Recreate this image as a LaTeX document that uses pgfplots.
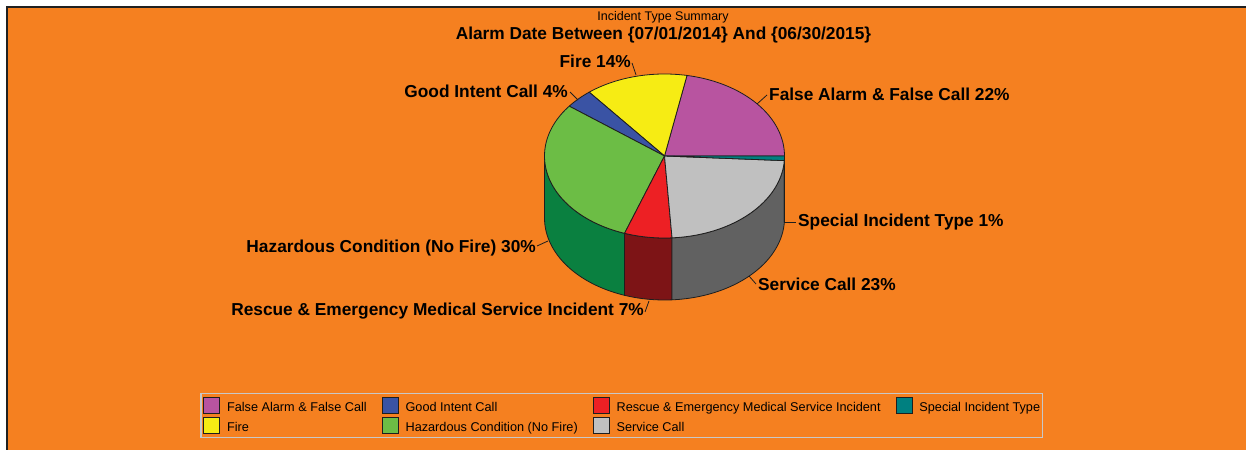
\documentclass[border=0pt]{standalone}
\usepackage{fontspec}
\setmainfont{Liberation Sans}
\usepackage{pgfplots}
\pgfplotsset{compat=1.18}
\usepgfplotslibrary{fillbetween}

\definecolor{bgorange}{RGB}{245,128,32}
\definecolor{frameblack}{RGB}{32,32,32}
\definecolor{edge}{RGB}{30,30,30}
\definecolor{cFA}{RGB}{184,84,160}
\definecolor{cFire}{RGB}{246,236,20}
\definecolor{cGI}{RGB}{58,83,164}
\definecolor{cHz}{RGB}{108,189,69}
\definecolor{cHzS}{RGB}{10,128,64}
\definecolor{cRe}{RGB}{237,32,36}
\definecolor{cReS}{RGB}{125,20,22}
\definecolor{cSv}{RGB}{192,192,192}
\definecolor{cSvS}{RGB}{97,97,97}
\definecolor{cSp}{RGB}{0,128,128}
\definecolor{cSpS}{RGB}{0,92,92}
\definecolor{legbord}{RGB}{200,200,200}

% shares (percent)
\def\pFA{22.0}
\def\pFire{13.8}
\def\pGI{3.8}
\def\pHz{30.0}
\def\pRe{6.4}
\def\pSv{23.1}
\def\pSp{0.9}

\pgfmathsetmacro\aA{3.6*\pFA}
\pgfmathsetmacro\aB{\aA+3.6*\pFire}
\pgfmathsetmacro\aC{\aB+3.6*\pGI}
\pgfmathsetmacro\aD{\aC+3.6*\pHz}
\pgfmathsetmacro\aE{\aD+3.6*\pRe}
\pgfmathsetmacro\aF{\aE+3.6*\pSv}
\pgfmathsetmacro\aG{\aF+3.6*\pSp}

\def\cx{664.5}
\def\cy{156}
\def\rx{120}
\def\ry{82}
\def\dep{62}

\newcommand\lab{\fontsize{17.3}{20}\selectfont\bfseries}

\begin{document}
\begin{tikzpicture}
\begin{axis}[
  x=1pt, y=1pt, xmin=0, xmax=1246, ymin=0, ymax=450, y dir=reverse,
  hide axis, scale only axis, clip=false,
  legend image code/.code={\draw[#1,draw=edge,line width=0.8pt] (0pt,-5.5pt) rectangle (16pt,10.5pt);},
  legend columns=2, transpose legend, legend cell align=left,
  legend style={at={(axis cs:200,393)}, anchor=north west,
    draw=legbord, line width=1.5pt, fill=none,
    font=\fontsize{12.7}{15}\selectfont,
    inner xsep=2.5pt, inner ysep=3.5pt, row sep=2pt, column sep=7pt,
    /tikz/every even column/.append style={column sep=15pt},
    nodes={inner sep=0pt, text height=10pt, text depth=3pt}},
]
% background
\fill[white] (axis cs:0,0) rectangle (axis cs:1246,450);
\fill[bgorange] (axis cs:8,8) rectangle (axis cs:1246,450);
\fill[frameblack] (axis cs:6,6) rectangle (axis cs:1246,8);
\fill[frameblack] (axis cs:6,6) rectangle (axis cs:8,450);

% side walls
\addplot[draw=none, forget plot, name path=hzT, domain=180:\aD, samples=50] ({\cx+\rx*cos(x)},{\cy-\ry*sin(x)});
\addplot[draw=none, forget plot, name path=hzB, domain=180:\aD, samples=50] ({\cx+\rx*cos(x)},{\cy+\dep-\ry*sin(x)});
\addplot[fill=cHzS, draw=edge, line width=0.8pt, forget plot] fill between[of=hzT and hzB, on layer=main];

\addplot[draw=none, forget plot, name path=reT, domain=\aD:\aE, samples=20] ({\cx+\rx*cos(x)},{\cy-\ry*sin(x)});
\addplot[draw=none, forget plot, name path=reB, domain=\aD:\aE, samples=20] ({\cx+\rx*cos(x)},{\cy+\dep-\ry*sin(x)});
\addplot[fill=cReS, draw=edge, line width=0.8pt, forget plot] fill between[of=reT and reB, on layer=main];

\addplot[draw=none, forget plot, name path=svT, domain=\aE:\aF, samples=50] ({\cx+\rx*cos(x)},{\cy-\ry*sin(x)});
\addplot[draw=none, forget plot, name path=svB, domain=\aE:\aF, samples=50] ({\cx+\rx*cos(x)},{\cy+\dep-\ry*sin(x)});
\addplot[fill=cSvS, draw=edge, line width=0.8pt, forget plot] fill between[of=svT and svB, on layer=main];

\addplot[draw=none, forget plot, name path=spT, domain=\aF:\aG, samples=5] ({\cx+\rx*cos(x)},{\cy-\ry*sin(x)});
\addplot[draw=none, forget plot, name path=spB, domain=\aF:\aG, samples=5] ({\cx+\rx*cos(x)},{\cy+\dep-\ry*sin(x)});
\addplot[fill=cSpS, draw=edge, line width=0.8pt, forget plot] fill between[of=spT and spB, on layer=main];

% top wedges
\addplot[fill=cFA, draw=edge, line width=0.8pt, domain=0:\aA, samples=50] ({\cx+\rx*cos(x)},{\cy-\ry*sin(x)}) -- (axis cs:\cx,\cy) -- cycle;
\addlegendentry{False Alarm \& False Call}
\addplot[fill=cFire, draw=edge, line width=0.8pt, domain=\aA:\aB, samples=40] ({\cx+\rx*cos(x)},{\cy-\ry*sin(x)}) -- (axis cs:\cx,\cy) -- cycle;
\addlegendentry{Fire}
\addplot[fill=cGI, draw=edge, line width=0.8pt, domain=\aB:\aC, samples=15] ({\cx+\rx*cos(x)},{\cy-\ry*sin(x)}) -- (axis cs:\cx,\cy) -- cycle;
\addlegendentry{Good Intent Call}
\addplot[fill=cHz, draw=edge, line width=0.8pt, domain=\aC:\aD, samples=60] ({\cx+\rx*cos(x)},{\cy-\ry*sin(x)}) -- (axis cs:\cx,\cy) -- cycle;
\addlegendentry{Hazardous Condition (No Fire)}
\addplot[fill=cRe, draw=edge, line width=0.8pt, domain=\aD:\aE, samples=20] ({\cx+\rx*cos(x)},{\cy-\ry*sin(x)}) -- (axis cs:\cx,\cy) -- cycle;
\addlegendentry{Rescue \& Emergency Medical Service Incident}
\addplot[fill=cSv, draw=edge, line width=0.8pt, domain=\aE:\aF, samples=50] ({\cx+\rx*cos(x)},{\cy-\ry*sin(x)}) -- (axis cs:\cx,\cy) -- cycle;
\addlegendentry{Service Call}
\addplot[fill=cSp, draw=edge, line width=0.8pt, domain=\aF:\aG, samples=5] ({\cx+\rx*cos(x)},{\cy-\ry*sin(x)}) -- (axis cs:\cx,\cy) -- cycle;
\addlegendentry{Special Incident Type}

% leader lines
\draw[edge, line width=0.8pt] (axis cs:632,63) -- (axis cs:636,75);
\draw[edge, line width=0.8pt] (axis cs:570,92) -- (axis cs:578,100);
\draw[edge, line width=0.8pt] (axis cs:767,95) -- (axis cs:757,104);
\draw[edge, line width=0.8pt] (axis cs:784,222) -- (axis cs:796,222);
\draw[edge, line width=0.8pt] (axis cs:749,276) -- (axis cs:756,284);
\draw[edge, line width=0.8pt] (axis cs:537,246) -- (axis cs:548,241);
\draw[edge, line width=0.8pt] (axis cs:645,312) -- (axis cs:649,301);

% labels
\node[anchor=base east, inner sep=0pt, font=\lab] at (axis cs:631,68) {Fire 14\%};
\node[anchor=base east, inner sep=0pt, font=\lab] at (axis cs:568,97.4) {Good Intent Call 4\%};
\node[anchor=base west, inner sep=0pt, font=\lab] at (axis cs:769,100.5) {False Alarm \& False Call 22\%};
\node[anchor=base west, inner sep=0pt, font=\lab] at (axis cs:798,226.5) {Special Incident Type 1\%};
\node[anchor=base west, inner sep=0pt, font=\lab] at (axis cs:758,290.7) {Service Call 23\%};
\node[anchor=base east, inner sep=0pt, font=\lab] at (axis cs:536,252.4) {Hazardous Condition (No Fire) 30\%};
\node[anchor=base east, inner sep=0pt, font=\lab] at (axis cs:644,315.7) {Rescue \& Emergency Medical Service Incident 7\%};

% titles
\node[anchor=base, inner sep=0pt, font=\fontsize{12.5}{15}\selectfont] at (axis cs:663,21) {Incident Type Summary};
\node[anchor=base, inner sep=0pt, font=\lab] at (axis cs:663.5,40) {Alarm Date Between \{07/01/2014\} And \{06/30/2015\}};
\end{axis}
\end{tikzpicture}
\end{document}
